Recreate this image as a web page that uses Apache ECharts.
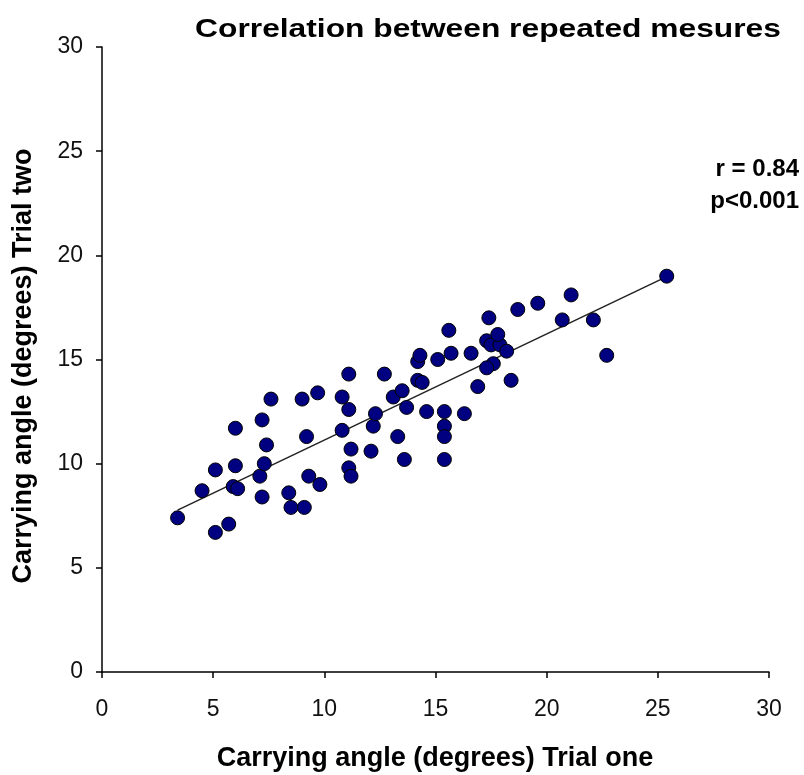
<!DOCTYPE html>
<html>
<head>
<meta charset="utf-8">
<script src="https://cdn.jsdelivr.net/npm/echarts@6/dist/echarts.min.js"></script>
<style>
  html, body { margin: 0; padding: 0; background: #fff; }
  #chart { width: 804px; height: 775px; }
</style>
</head>
<body>
<div id="chart"></div>
<script>
// Carrying angle measured twice on the same subjects (degrees)
const trialOne = [3.4, 4.5, 5.1, 5.1, 5.7, 5.9, 6.1, 6.0, 6.0, 7.2,
  7.1, 7.3, 7.4, 7.2, 7.6, 8.4, 8.5, 9.1, 9.0, 9.2,
  9.3, 9.8, 9.7, 10.8, 11.1, 10.8, 11.2, 11.1, 11.2, 11.1,
  12.1, 12.2, 12.3, 12.7, 13.1, 13.3, 13.5, 13.6, 13.7, 14.2,
  14.3, 14.2, 14.4, 14.6, 15.1, 15.4, 15.4, 15.4, 15.4, 15.6,
  15.7, 16.3, 16.6, 16.9, 17.3, 17.5, 17.9, 17.8, 18.2, 17.6,
  17.3, 17.4, 18.4, 18.7, 19.6, 20.7, 21.1, 22.1, 22.7, 25.4];
const trialTwo = [7.4, 8.7, 9.7, 6.7, 7.1, 8.9, 8.8, 9.9, 11.7, 8.4,
  9.4, 10.0, 10.9, 12.1, 13.1, 8.6, 7.9, 7.9, 13.1, 11.3,
  9.4, 9.0, 13.4, 13.2, 12.6, 11.6, 10.7, 9.8, 9.4, 14.3,
  10.6, 11.8, 12.4, 14.3, 13.2, 11.3, 13.5, 10.2, 12.7, 14.9,
  15.2, 14.0, 13.9, 12.5, 15.0, 12.5, 11.8, 11.3, 10.2, 16.4,
  15.3, 12.4, 15.3, 13.7, 15.9, 15.7, 15.7, 16.2, 15.4, 14.8,
  14.6, 17.0, 14.0, 17.4, 17.7, 16.9, 18.1, 16.9, 15.2, 19.0];
const axisTicks = [0, 5, 10, 15, 20, 25, 30];
const statLines = ['r = 0.84', 'p<0.001'];
const chartTitle = 'Correlation between repeated mesures';
const xName = 'Carrying angle (degrees) Trial one';
const yName = 'Carrying angle (degrees) Trial two';

const points = trialOne.map((x, i) => [x, trialTwo[i]]);

// Least-squares fit, drawn across the range of trial one
const n = points.length;
const mx = trialOne.reduce((s, v) => s + v, 0) / n;
const my = trialTwo.reduce((s, v) => s + v, 0) / n;
let sxy = 0, sxx = 0;
for (let i = 0; i < n; i++) {
  sxy += (trialOne[i] - mx) * (trialTwo[i] - my);
  sxx += (trialOne[i] - mx) * (trialOne[i] - mx);
}
const slope = sxy / sxx;
const intercept = my - slope * mx;
const xMin = Math.min(...trialOne), xMax = Math.max(...trialOne);
const fit = [[xMin, intercept + slope * xMin], [xMax, intercept + slope * xMax]];

const FONT = '"Liberation Sans", Arial, sans-serif';
const chart = echarts.init(document.getElementById('chart'));

const axisCommon = {
  type: 'value',
  min: axisTicks[0],
  max: axisTicks[axisTicks.length - 1],
  interval: axisTicks[1] - axisTicks[0],
  splitLine: { show: false },
  axisLine: { show: true, lineStyle: { color: '#000', width: 1.5 } },
  axisTick: { show: true, inside: false, length: 6, lineStyle: { color: '#000', width: 1.5 } }
};

const boldText = (size) => ({ fontFamily: FONT, fontWeight: 'bold', fontSize: size, fill: '#000' });

chart.setOption({
  animation: false,
  backgroundColor: '#fff',
  grid: { left: 102, right: 35, top: 47, bottom: 103 },
  xAxis: Object.assign({}, axisCommon, {
    axisLabel: { fontFamily: FONT, fontSize: 23, color: '#111', margin: 26 }
  }),
  yAxis: Object.assign({}, axisCommon, {
    axisLabel: { fontFamily: FONT, fontSize: 23, color: '#111', margin: 19 }
  }),
  graphic: [
    {
      type: 'text', x: 488, y: 30, scaleX: 1.27,
      style: Object.assign(boldText(25), { text: chartTitle, textAlign: 'center', textVerticalAlign: 'middle' })
    },
    {
      type: 'text', x: 435, y: 759,
      style: Object.assign(boldText(27), { text: xName, textAlign: 'center', textVerticalAlign: 'middle' })
    },
    {
      type: 'text', x: 24, y: 366, rotation: Math.PI / 2,
      style: Object.assign(boldText(27), { text: yName, textAlign: 'center', textVerticalAlign: 'middle' })
    }
  ].concat(statLines.map((t, i) => ({
    type: 'text', x: 799, y: 169 + i * 32,
    style: Object.assign(boldText(24), { text: t, textAlign: 'right', textVerticalAlign: 'middle' })
  }))),
  series: [
    {
      type: 'line',
      data: fit,
      symbol: 'none',
      lineStyle: { color: '#222', width: 1.5 },
      z: 1
    },
    {
      type: 'scatter',
      data: points,
      symbol: 'circle',
      symbolSize: 14,
      itemStyle: { color: '#000080', borderColor: '#000', borderWidth: 1, opacity: 1 },
      z: 2
    }
  ]
});
</script>
</body>
</html>
